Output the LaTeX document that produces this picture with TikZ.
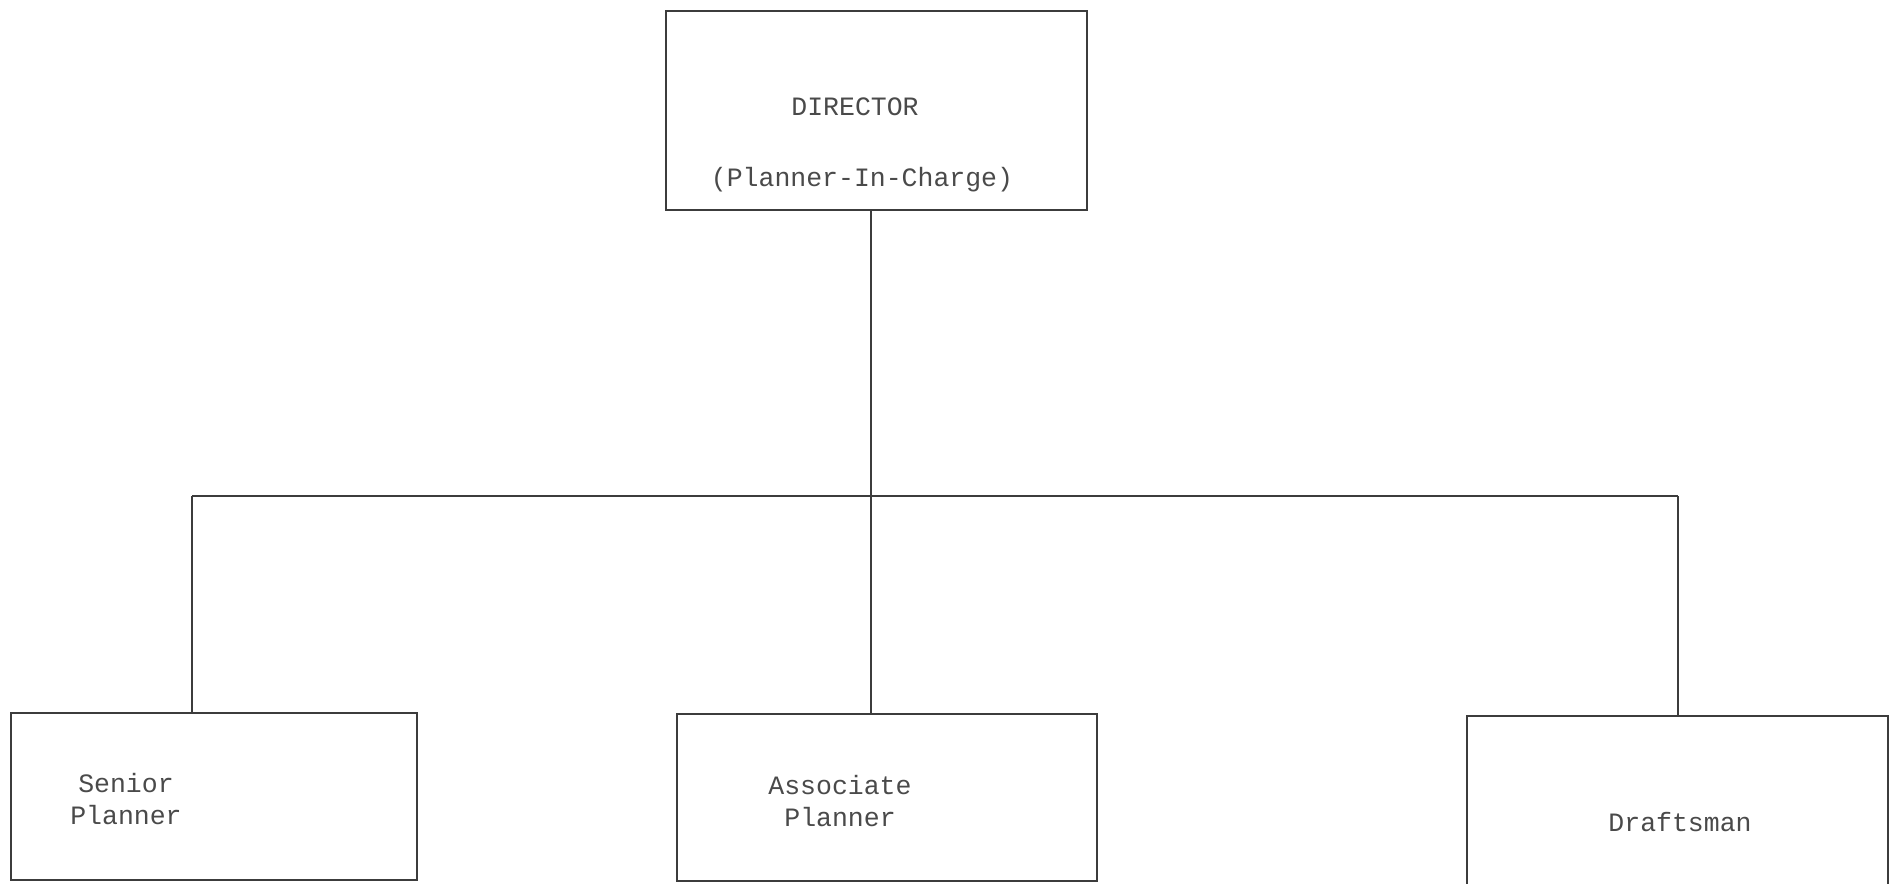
\documentclass[tikz,border=0pt]{standalone}
\usepackage{fontspec}
\newfontfamily\monof{Liberation Mono}
\definecolor{ink}{HTML}{3C3C3C}
\definecolor{txt}{HTML}{4A4A4A}
\tikzset{
  box/.style={draw=ink, line width=1.6pt, inner sep=0pt, fill=none},
  lbl/.style={text=txt, font=\monof\fontsize{26.5}{32}\selectfont, align=center, inner sep=0pt},
  wire/.style={draw=ink, line width=1.4pt}
}
\begin{document}
\begin{tikzpicture}[x=1pt,y=-1pt]
\useasboundingbox (0,0) rectangle (1897,883);
% boxes
\node[box, minimum width=421pt, minimum height=199pt] (dir) at (876.5,110.5) {};
\node[box, minimum width=406pt, minimum height=167pt] (sen) at (214,796.5) {};
\node[box, minimum width=420pt, minimum height=167pt] (asc) at (887,797.5) {};
\node[box, minimum width=421pt, minimum height=180pt] (dra) at (1677.5,806) {};
% texts
\node[lbl] (t1) at (855,107) {DIRECTOR};
\node[lbl] (t2) at (862,180) {(Planner-In-Charge)};
\node[lbl] (t3) at (126,799) {Senior\\Planner};
\node[lbl] (t4) at (840,801) {Associate\\Planner};
\node[lbl] (t5) at (1680,822) {Draftsman};
% connectors
\coordinate (bm) at (871,496);
\coordinate (bl) at (192,496);
\coordinate (br) at (1678,496);
\draw[wire] (dir.south -| bm) -- (bm);
\draw[wire] (bl) -- (br);
\draw[wire] (bl) -- (bl |- sen.north);
\draw[wire] (bm) -- (bm |- asc.north);
\draw[wire] (br) -- (br |- dra.north);
\end{tikzpicture}
\end{document}
